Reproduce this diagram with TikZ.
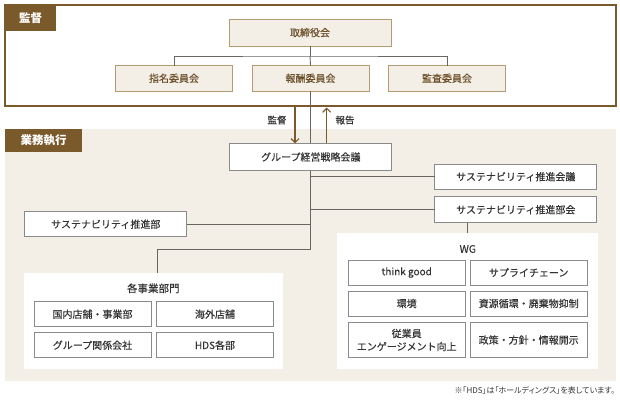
\documentclass[tikz,border=0pt]{standalone}
\usepackage{fontspec}
\setmainfont{Noto Sans CJK JP}[FakeBold=0.2]
\newfontfamily\paltjp{Noto Sans CJK JP}[RawFeature=+palt]
\newfontfamily\boldjp{Noto Sans CJK JP}
\usetikzlibrary{arrows.meta}
\definecolor{brownD}{HTML}{7A5A2B}
\definecolor{brownT}{HTML}{6B4E28}
\definecolor{beigeF}{HTML}{F3EFE7}
\definecolor{beigeB}{HTML}{B59B72}
\definecolor{lineG}{HTML}{6A6561}
\definecolor{boxG}{HTML}{8A8A8A}
\definecolor{txtG}{HTML}{333333}
\tikzset{
  every node/.style={inner sep=0pt, outer sep=0pt, font=\fontsize{10}{12}\selectfont},
  secLabel/.style={fill=brownD, text=white, font=\boldjp\bfseries\fontsize{11.5}{13}\selectfont, anchor=north west},
  topbox/.style={draw=beigeB, line width=0.9pt, fill=beigeF, text=brownT, minimum height=25.5pt, minimum width=117pt},
  lowbox/.style={draw=boxG, line width=0.7pt, fill=white, text=txtG, minimum height=25.5pt, minimum width=162pt},
  subbox/.style={draw=boxG, line width=0.7pt, fill=white, text=txtG, minimum height=25pt, minimum width=117pt, align=center},
  groupbox/.style={fill=white},
  conn/.style={draw=lineG, line width=0.9pt},
  flow/.style={draw=brownD, line width=1.1pt, -{Straight Barb[length=4pt,width=8pt]}},
  grouplabel/.style={text=txtG, font=\fontsize{10.5}{12}\selectfont},
  small/.style={text=txtG, font=\fontsize{9.5}{11}\selectfont}
}
\begin{document}
\begin{tikzpicture}[x=1pt,y=-1pt]
\useasboundingbox (0,0) rectangle (620,405);
% execution background
\fill[beigeF] (5,129) rectangle (616,381);
% supervision frame
\draw[brownD, line width=1.2pt, fill=white] (5,5) rectangle (616,106);
\node[secLabel, minimum width=51pt, minimum height=26pt] (lblS) at (5,5) {監督};
\node[secLabel, minimum width=77pt, minimum height=23pt] (lblE) at (5,129) {業務執行};

% supervision boxes
\node[topbox, minimum width=162pt, minimum height=26.7pt] (tori) at (310,32.6) {取締役会};
\node[topbox] (shimei) at (174,78.3) {指名委員会};
\node[topbox] (hoshu) at (310.5,78.3) {報酬委員会};
\node[topbox] (kansa) at (447,78.3) {監査委員会};
\coordinate (jn) at (310,56);
\draw[conn] (tori.south) -- (jn);
\draw[conn] (shimei.north) |- (jn) -| (kansa.north);
\draw[conn] (jn) -- (hoshu.north);

% group boxes
\node[groupbox, minimum width=258.7pt, minimum height=95.7pt] (kakuG) at (153.3,321.2) {};
\node[groupbox, minimum width=261pt, minimum height=135.7pt] (wgG) at (467.8,301.2) {};

% execution boxes
\node[lowbox, minimum height=27.4pt] (grp) at (310.8,157) {グループ経営戦略会議};
\node[lowbox, minimum height=25.3pt] (kaigi) at (515.8,176.7) {サステナビリティ推進会議};
\node[lowbox, minimum height=26pt] (bukai) at (515.8,209.7) {サステナビリティ推進部会};
\node[lowbox, minimum height=25pt] (bu) at (105.8,224.2) {サステナビリティ推進部};

% arrows
\coordinate (sTop) at (295,106.7);
\coordinate (sBot) at (295,143.3);
\coordinate (rTop) at (326.7,107.5);
\coordinate (rBot) at (326.7,143.3);
\draw[flow] (sTop) -- (sBot);
\draw[flow] (rBot) -- (rTop);
\node[small] (lblKan) at (277,120) {監督};
\node[small] (lblHo) at (345,120) {報告};

% trunk
\draw[conn] (hoshu.south) -- (hoshu.south |- grp.north);
\coordinate (tEnd) at (310.8,249.3);
\coordinate (kTop) at (157.5,249.3);
\draw[conn] (grp.south) -- (tEnd);
\draw[conn] (tEnd |- kaigi.west) -- (kaigi.west);
\draw[conn] (tEnd |- bukai.west) -- (bukai.west);
\draw[conn] (bu.east) -- (tEnd |- bu.east);
\draw[conn] (tEnd) -- (kTop) -- (kTop |- kakuG.north);
\draw[conn] (wgG.north |- bukai.south) -- (wgG.north);

% 各事業部門
\node[grouplabel] (kakuL) at (153.3,288.3) {各事業部門};
\node[subbox] (k1) at (92.5,314.2) {国内店舗・事業部};
\node[subbox] (k2) at (215,314.2) {海外店舗};
\node[subbox] (k3) at (92.5,345.2) {グループ関係会社};
\node[subbox] (k4) at (215,345.2) {HDS各部};

% WG
\node[grouplabel] (wgL) at (467.8,249) {WG};
\node[subbox] (w1) at (406.7,272.5) {think good};
\node[subbox] (w2) at (528.7,272.5) {サプライチェーン};
\node[subbox] (w3) at (406.7,303.5) {環境};
\node[subbox] (w4) at (528.7,303.5) {資源循環・廃棄物抑制};
\node[subbox, minimum height=35.4pt, font=\fontsize{10}{13}\selectfont] (w5) at (406.7,340) {従業員\\エンゲージメント向上};
\node[subbox, minimum height=35.4pt] (w6) at (528.7,340) {政策・方針・情報開示};

% footnote
\node[text=txtG, font=\paltjp\fontsize{8}{9}\selectfont, anchor=east] (note) at (615,390) {※「HDS」は「ホールディングス」を表しています。};
\end{tikzpicture}
\end{document}
